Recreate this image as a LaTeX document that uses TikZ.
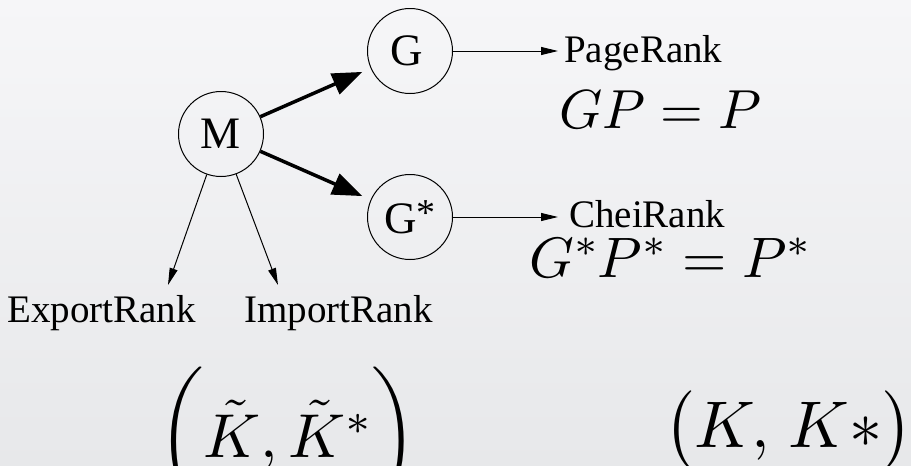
\documentclass[tikz,border=0pt]{standalone}
\usepackage{amsmath}
\usepackage[no-math]{fontspec}
\setmainfont{Liberation Serif}
\DeclareFontShape{OML}{cmm}{m}{it}{<-> cmmi10}{}
\DeclareFontShape{OMS}{cmsy}{m}{n}{<-48> cmsy7 <48-> cmsy10}{}
\DeclareFontShape{OT1}{cmr}{m}{n}{<-> cmr10}{}
\DeclareFontShape{OMX}{cmex}{m}{n}{<-> cmex10}{}
\usetikzlibrary{arrows.meta}
\definecolor{bgtop}{HTML}{F6F6F8}
\definecolor{bgbot}{HTML}{E7E8EA}
\newcommand{\dlm}[2]{\hbox{$\nulldelimiterspace=0pt\left#1\vcenter to #2{}\right.$}}
\newcommand{\supast}{\raisebox{8pt}{\fontsize{38}{38}\selectfont *}}
\begin{document}
\begin{tikzpicture}[x=1pt,y=-1pt,
  circ/.style={circle, draw, line width=1pt, minimum size=85pt, inner sep=0pt,
               font=\fontsize{45}{54}\selectfont},
  lab/.style={anchor=base west, inner sep=0pt, font=\fontsize{39}{47}\selectfont},
  bigarrow/.style={line width=3.5pt, -{Triangle[length=30pt,width=22pt]}, shorten >=9pt},
  smallarrow/.style={line width=1pt, -{Triangle[length=17pt,width=8pt]}}
]
\shade[top color=bgtop, bottom color=bgbot] (0,0) rectangle (911,466);
\useasboundingbox (0,0) rectangle (911,466);

\node[circ] (M) at (221,134) {M};
\node[circ] (G) at (410,51) {\hspace*{-6pt}G};
\node[circ] (Gs) at (410,217) {G\supast};

\coordinate (prtip) at (558,51);
\coordinate (crtip) at (558,217);
\coordinate (ertip) at (168,285);
\coordinate (irtip) at (278,285);

\draw[bigarrow] (M) -- (G);
\draw[bigarrow] (M) -- (Gs);
\draw[smallarrow] (G) -- (prtip);
\draw[smallarrow] (Gs) -- (crtip);
\draw[smallarrow] (M) -- (ertip);
\draw[smallarrow] (M) -- (irtip);

\node[lab] (prl) at (564,62) {PageRank};
\node[lab] (crl) at (569,227) {CheiRank};
\node[lab] (erl) at (7,322) {ExportRank};
\node[lab] (irl) at (244,322) {ImportRank};

\node[lab, font=\fontsize{55}{66}\selectfont] (gp) at (559,128) {$GP = P$};
\node[lab, font=\fontsize{57}{68}\selectfont] (gsp) at (529,277) {$G^*P^* = P^*$};
\node[lab, font=\fontsize{62}{74}\selectfont] (kt) at (158,457)
  {$\mathopen{\dlm{(}{136pt}}\tilde{K},\tilde{K}^*\mathclose{\dlm{)}{136pt}}$};
\node[lab, font=\fontsize{66}{79}\selectfont] (kk) at (664,447)
  {$\mathopen{\dlm{(}{78pt}}K,\mskip2mu K*\mathclose{\dlm{)}{78pt}}$};
\end{tikzpicture}
\end{document}
